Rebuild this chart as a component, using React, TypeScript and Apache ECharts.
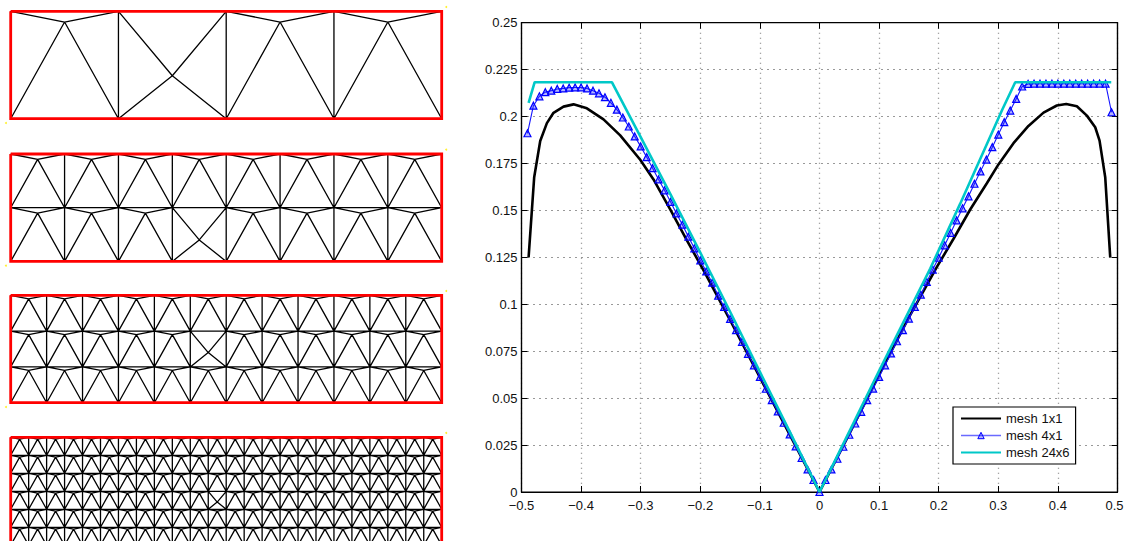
import React, { useEffect, useRef } from "react";
import * as echarts from "echarts";

const seriesNames = ["mesh 1x1", "mesh 4x1", "mesh 24x6"];

const blackX = [-0.4881, -0.4787, -0.4686, -0.4574, -0.4463, -0.4295, -0.4127, -0.3903, -0.3624, -0.3344, -0.3008, -0.2785, -0.2505, -0.2225, -0.1918, -0.15, -0.1, -0.05, 0, 0.05, 0.1, 0.15, 0.197, 0.2249, 0.2529, 0.2808, 0.3003, 0.3255, 0.3506, 0.3759, 0.3982, 0.4139, 0.4318, 0.4486, 0.4626, 0.4699, 0.4794, 0.4878];
const blackY = [0.125, 0.1677, 0.187, 0.1965, 0.202, 0.2053, 0.2065, 0.2044, 0.1985, 0.19, 0.177, 0.1665, 0.1505, 0.1341, 0.1165, 0.0915, 0.061, 0.0305, 0, 0.031, 0.0625, 0.093, 0.1199, 0.1349, 0.1505, 0.1645, 0.1745, 0.1858, 0.195, 0.2021, 0.2059, 0.2067, 0.2055, 0.2005, 0.1943, 0.1872, 0.1677, 0.125];

const blueX = [-0.49, -0.48, -0.47, -0.46, -0.45, -0.44, -0.43, -0.42, -0.41, -0.4, -0.39, -0.38, -0.37, -0.36, -0.35, -0.34, -0.33, -0.32, -0.31, -0.3, -0.29, -0.28, -0.27, -0.26, -0.25, -0.24, -0.23, -0.22, -0.21, -0.2, -0.19, -0.18, -0.17, -0.16, -0.15, -0.14, -0.13, -0.12, -0.11, -0.1, -0.09, -0.08, -0.07, -0.06, -0.05, -0.04, -0.03, -0.02, -0.01, 0, 0.01, 0.02, 0.03, 0.04, 0.05, 0.06, 0.07, 0.08, 0.09, 0.1, 0.11, 0.12, 0.13, 0.14, 0.15, 0.16, 0.17, 0.18, 0.19, 0.2, 0.21, 0.22, 0.23, 0.24, 0.25, 0.26, 0.27, 0.28, 0.29, 0.3, 0.31, 0.32, 0.33, 0.34, 0.35, 0.36, 0.37, 0.38, 0.39, 0.4, 0.41, 0.42, 0.43, 0.44, 0.45, 0.46, 0.47, 0.48, 0.49];
const blueY = [0.1911, 0.2058, 0.2108, 0.213, 0.2138, 0.2147, 0.215, 0.2154, 0.2155, 0.2155, 0.215, 0.2138, 0.2124, 0.2103, 0.2073, 0.2037, 0.1995, 0.1947, 0.1894, 0.1841, 0.1784, 0.1725, 0.1665, 0.1607, 0.1546, 0.1484, 0.1424, 0.136, 0.1298, 0.1234, 0.1175, 0.1115, 0.1046, 0.0986, 0.0922, 0.0862, 0.08, 0.0736, 0.0675, 0.0613, 0.055, 0.0489, 0.0429, 0.0369, 0.0307, 0.0243, 0.0181, 0.012, 0.0064, 0, 0.0064, 0.012, 0.0177, 0.0241, 0.0305, 0.0365, 0.0427, 0.0489, 0.0551, 0.0613, 0.0675, 0.0738, 0.0803, 0.0862, 0.0924, 0.0986, 0.1051, 0.1119, 0.1185, 0.1248, 0.1314, 0.138, 0.1447, 0.1511, 0.1575, 0.1642, 0.1708, 0.1771, 0.1837, 0.1904, 0.197, 0.2032, 0.2094, 0.216, 0.2174, 0.2175, 0.2175, 0.2175, 0.2175, 0.2175, 0.2175, 0.2175, 0.2175, 0.2175, 0.2175, 0.2175, 0.2175, 0.2175, 0.2023];

const cyanX = [-0.4881, -0.4779, -0.3484, -0.3, -0.25, -0.2, -0.15, -0.1, -0.05, 0, 0.05, 0.1, 0.1858, 0.2361, 0.306, 0.3284, 0.4895];
const cyanY = [0.2073, 0.2183, 0.2183, 0.189, 0.1585, 0.1275, 0.096, 0.064, 0.0322, 0, 0.0322, 0.0645, 0.119, 0.1536, 0.2032, 0.2183, 0.2183];

const meshCols = [4, 8, 12, 24];
const meshRows = [1, 2, 3, 6];
const oddCol = [1, 3, 5, 11];
const oddRow = [0, 1, 1, 3];
const apexDepth = 0.1;
const oddApexDepth = 0.6;

const GAP = ["-", "-"];

function meshSegments(p: number) {
  const out: any[] = [];
  const seg = (a: number[], b: number[]) => out.push(a, b, GAP);
  for (let r = 0; r < meshRows[p]; r++) {
    for (let c = 0; c < meshCols[p]; c++) {
      const odd = c === oddCol[p] && r === oddRow[p];
      const apex = [c + 0.5, r + (odd ? oddApexDepth : apexDepth)];
      seg([c, r], apex);
      seg([c + 1, r], apex);
      seg([c, r + 1], apex);
      seg([c + 1, r + 1], apex);
      seg([c, r], [c, r + 1]);
      seg([c, r], [c + 1, r]);
    }
  }
  return out;
}

const panelTop = [11.3, 154, 295.3, 437.3];
const panelH = [107.4, 107.4, 107.4, 108];
const panelLeft = 10.7;
const panelW = 431;

function buildOption() {
  const grids: any[] = [
    { left: 521.5, top: 22.7, width: 596, height: 469.3, show: true, borderColor: "#000", borderWidth: 1.2, backgroundColor: "transparent", outerBoundsMode: "none" },
  ];
  const font = { fontFamily: "Liberation Sans", fontSize: 13, color: "#111" };
  const xAxes: any[] = [
    {
      type: "value", gridIndex: 0, min: -0.5, max: 0.5, interval: 0.1,
      axisLine: { show: true, onZero: false, lineStyle: { color: "#000", width: 1.2 } },
      axisTick: { inside: true, length: 6, lineStyle: { color: "#000" } },
      axisLabel: { ...font, margin: 7, showMinLabel: true, showMaxLabel: true, hideOverlap: false,
        rich: { end: { ...font, padding: [0, 6, 0, 0] } },
        formatter: (v: number) => {
          const s = String(Number(v.toFixed(1))).replace("-", "\u2212");
          return Math.abs(v - 0.5) < 1e-9 ? `{end|${s}}` : s;
        } },
      splitLine: { show: true, lineStyle: { type: [1, 4], color: "#888", width: 1.3 } },
    },
    {
      type: "value", gridIndex: 0, position: "top", min: -0.5, max: 0.5, interval: 0.1,
      axisLine: { show: true, onZero: false, lineStyle: { color: "#000", width: 1.2 } },
      axisTick: { inside: true, length: 6, lineStyle: { color: "#000" } },
      axisLabel: { show: false }, splitLine: { show: false },
    },
  ];
  const yAxes: any[] = [
    {
      type: "value", gridIndex: 0, min: 0, max: 0.25, interval: 0.025,
      axisLine: { show: true, onZero: false, lineStyle: { color: "#000", width: 1.2 } },
      axisTick: { inside: true, length: 6, lineStyle: { color: "#000" } },
      axisLabel: { ...font, margin: 4, showMinLabel: true, showMaxLabel: true,
        formatter: (v: number) => String(Number(v.toFixed(3))) },
      splitLine: { show: true, lineStyle: { type: [1, 5], color: "#333", width: 1 } },
    },
    {
      type: "value", gridIndex: 0, position: "right", min: 0, max: 0.25, interval: 0.025,
      axisLine: { show: true, onZero: false, lineStyle: { color: "#000", width: 1.2 } },
      axisTick: { inside: true, length: 6, lineStyle: { color: "#000" } },
      axisLabel: { show: false }, splitLine: { show: false },
    },
  ];
  const series: any[] = [
    {
      name: seriesNames[0], type: "line", xAxisIndex: 0, yAxisIndex: 0, showSymbol: false, symbol: "none",
      data: blackX.map((x, i) => [x, blackY[i]]),
      lineStyle: { color: "#000", width: 2.6 }, itemStyle: { color: "#000" }, z: 3,
    },
    {
      name: seriesNames[1], type: "line", xAxisIndex: 0, yAxisIndex: 0, symbol: "triangle", symbolSize: 7, showSymbol: true, showAllSymbol: true,
      data: blueX.map((x, i) => [x, blueY[i]]),
      lineStyle: { color: "#1414ff", width: 1.1 },
      itemStyle: { color: "rgba(40,40,255,0.35)", borderColor: "#0000ff", borderWidth: 1.2 }, z: 4,
    },
    {
      name: seriesNames[2], type: "line", xAxisIndex: 0, yAxisIndex: 0, showSymbol: false, symbol: "none",
      data: cyanX.map((x, i) => [x, cyanY[i]]),
      lineStyle: { color: "#00c8c8", width: 2.6 }, itemStyle: { color: "#00c8c8" }, z: 5,
    },
  ];

  meshCols.forEach((cols, p) => {
    const g = grids.length;
    const rows = meshRows[p];
    grids.push({ left: panelLeft, top: panelTop[p], width: panelW, height: panelH[p], show: false, outerBoundsMode: "none" });
    xAxes.push({ type: "value", gridIndex: g, min: 0, max: cols, show: false, splitLine: { show: false } });
    yAxes.push({ type: "value", gridIndex: g, min: 0, max: rows, inverse: true, show: false, splitLine: { show: false } });
    const xi = xAxes.length - 1;
    const yi = yAxes.length - 1;
    series.push({
      type: "line", xAxisIndex: xi, yAxisIndex: yi, symbol: "none", showSymbol: false, clip: false, connectNulls: false,
      data: meshSegments(p), lineStyle: { color: "#000", width: 1.3 }, silent: true, z: 2,
    });
    series.push({
      type: "line", xAxisIndex: xi, yAxisIndex: yi, symbol: "none", showSymbol: false, clip: false,
      data: [[0, 0], [cols, 0], [cols, rows], [0, rows], [0, 0]],
      lineStyle: { color: "#ff0000", width: 2.8, join: "miter" }, silent: true, z: 3,
    });
    series.push({
      type: "scatter", xAxisIndex: xi, yAxisIndex: yi, clip: false, symbol: "circle", symbolSize: 2,
      data: [[cols * 1.0105, rows * -0.04], [cols * -0.011, rows * 1.04]],
      itemStyle: { color: "#ffee00" }, silent: true, z: 2,
    });
  });

  const noMark = { color: "rgba(0,0,0,0)", borderWidth: 0 };
  return {
    animation: false,
    backgroundColor: "#fff",
    grid: grids,
    xAxis: xAxes,
    yAxis: yAxes,
    series,
    legend: {
      data: [
        { name: seriesNames[0], itemStyle: noMark },
        { name: seriesNames[1], itemStyle: { color: "rgba(40,40,255,0.35)", borderColor: "#0000ff", borderWidth: 1 }, lineStyle: { color: "#6a6aff", width: 1.4 } },
        { name: seriesNames[2], itemStyle: noMark },
      ],
      orient: "vertical", left: 953, top: 407,
      backgroundColor: "#fff", borderColor: "#000", borderWidth: 1.2, borderRadius: 0,
      padding: [5, 6, 5, 7], itemWidth: 40, itemHeight: 8, itemGap: 4,
      textStyle: { fontFamily: "Liberation Sans", fontSize: 13, color: "#111" },
    },
  };
}

export default function App() {
  const ref = useRef<HTMLDivElement>(null);
  useEffect(() => {
    document.body.style.margin = "0";
    const chart = echarts.init(ref.current!, undefined, { renderer: "svg" });
    chart.setOption(buildOption());
    return () => chart.dispose();
  }, []);
  return <div ref={ref} style={{ width: 1124, height: 541, overflow: "hidden" }} />;
}
